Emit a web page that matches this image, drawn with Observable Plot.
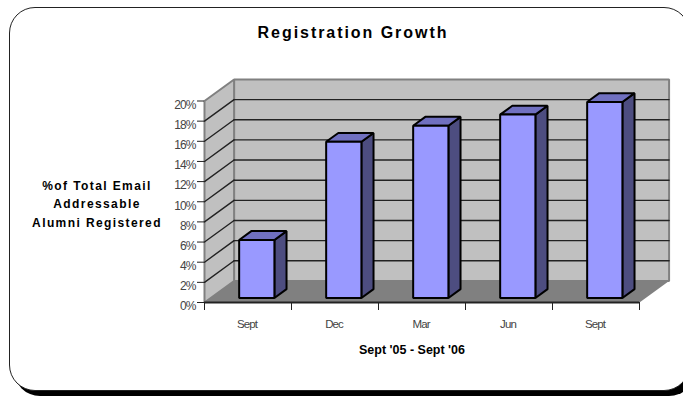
<!DOCTYPE html>
<html>
<head>
<meta charset="utf-8">
<style>
  html, body { margin: 0; padding: 0; background: #fff; overflow: hidden; }
  #page { position: relative; width: 683px; height: 396px; overflow: hidden; font-family: "Liberation Sans", Arial, sans-serif; }
  #card { position: absolute; left: 9px; top: 7px; width: 679px; height: 382px; background: #fff;
          border: 1.5px solid #222; border-radius: 26px; box-shadow: 5px 5px 0 0 #000; box-sizing: content-box; }
  #chart { position: absolute; left: 0; top: 0; }
  #chart svg { background: transparent; display: block; }
  .t { position: absolute; color: #000; font-weight: bold; white-space: nowrap; text-align: center; }
  #title { left: 203px; width: 300px; top: 23px; font-size: 16px; letter-spacing: 1.95px; line-height: 20px; }
  #ytitle { left: 17px; width: 160px; top: 177px; font-size: 12px; letter-spacing: 1.4px; line-height: 18.3px; }
  #xtitle { left: 312px; width: 200px; top: 343px; font-size: 12.5px; letter-spacing: 0; line-height: 14px; }
  g[aria-label="y-axis tick label"] text, g[aria-label="x-axis tick label"] text { letter-spacing: -0.9px; }
</style>
<script src="https://cdn.jsdelivr.net/npm/d3@7"></script>
<script src="https://cdn.jsdelivr.net/npm/@observablehq/plot@0.6"></script>
</head>
<body>
<div id="page">
  <div id="card"></div>
  <div id="chart"></div>
  <div class="t" id="title">Registration Growth</div>
  <div class="t" id="ytitle">%of Total Email<br>Addressable<br>Alumni Registered</div>
  <div class="t" id="xtitle">Sept '05 - Sept '06</div>
</div>
<script>
// Registration share per quarter
const categories = ["Sept", "Dec", "Mar", "Jun", "Sept"];
const values = [5.76, 15.5, 17.1, 18.2, 19.45];
const yTicks = [0, 2, 4, 6, 8, 10, 12, 14, 16, 18, 20];

// Oblique projection: moving one unit into the depth of the box shifts a point
// along both data axes, so everything stays on the ordinary x and y scales.
const depthX = 0.34;
const depthY = 2.14;
const project = (x, y, d) => ({x: x + d * depthX, y: y + d * depthY});

const n = categories.length;
const yMax = 20;

const poly = (id, corners) => corners.map(([x, y, d]) => ({id, ...project(x, y, d)}));
const face = (data, fill, stroke, strokeWidth) =>
  Plot.line(data, {x: "x", y: "y", z: "id", curve: "linear-closed", fill, stroke, strokeWidth, strokeLinejoin: "miter"});

// Walls and floor of the box
const backWall = poly("back", [[0, 0, 1], [n, 0, 1], [n, yMax, 1], [0, yMax, 1]]);
const sideWall = poly("side", [[0, 0, 0], [0, 0, 1], [0, yMax, 1], [0, yMax, 0]]);
const floor = poly("floor", [[0, 0, 0], [n, 0, 0], [n, 0, 1], [0, 0, 1]]);

// Gridlines run along the side wall and across the back wall
const gridLines = yTicks.filter((t) => t > 0 && t < yMax).flatMap((t) => [
  ...poly("s" + t, [[0, t, 0], [0, t, 1]]),
  ...poly("b" + t, [[0, t, 1], [n, t, 1]])
]);

// Bars: front, top and right-hand faces
const barLeft = 0.327, barWidth = 0.405, front = 0.21, back = 0.62;
const barFaces = values.map((v, i) => {
  const x0 = i + barLeft, x1 = x0 + barWidth;
  return {
    front: poly("f" + i, [[x0, 0, front], [x1, 0, front], [x1, v, front], [x0, v, front]]),
    top: poly("t" + i, [[x0, v, front], [x1, v, front], [x1, v, back], [x0, v, back]]),
    side: poly("r" + i, [[x1, 0, front], [x1, 0, back], [x1, v, back], [x1, v, front]])
  };
});

const chart = Plot.plot({
  width: 683,
  height: 396,
  marginLeft: 204,
  marginRight: 44,
  marginTop: 100.5,
  marginBottom: 94,
  style: {background: "transparent", fontFamily: "'Liberation Sans', Arial, sans-serif"},
  x: {domain: [0, n], axis: null},
  y: {domain: [0, yMax], axis: null},
  marks: [
    face(backWall, "#c0c0c0", "#808080", 2),
    face(sideWall, "#c0c0c0", "#808080", 2),
    face(floor, "#808080", "none", 0),
    Plot.line(gridLines, {x: "x", y: "y", z: "id", stroke: "#222", strokeWidth: 1.4}),
    Plot.ruleY([0], {stroke: "#222", strokeWidth: 2}),
    ...barFaces.flatMap((b) => [
      face(b.side, "#4d4d80", "#000", 2),
      face(b.top, "#7070c0", "#000", 2),
      face(b.front, "#9999ff", "#000", 2)
    ]),
    // Tick marks and their labels are separate so the labels can sit just under each tick
    Plot.axisY(yTicks, {anchor: "left", tickSize: 7, tickFormat: () => "", stroke: "#222", label: null}),
    Plot.axisY(yTicks, {
      anchor: "left",
      tickSize: 0,
      tickPadding: 9,
      dy: 4,
      tickFormat: (d) => d + "%",
      fontSize: 12,
      fill: "#444",
      label: null
    }),
    Plot.axisX(d3.range(n + 1), {anchor: "bottom", tickSize: 8, tickFormat: () => "", stroke: "#222", label: null}),
    Plot.axisX(d3.range(n).map((i) => i + 0.5), {
      anchor: "bottom",
      tickSize: 0,
      tickPadding: 17,
      dx: -1,
      tickFormat: (d) => categories[Math.floor(d)],
      fontSize: 11.5,
      fill: "#444",
      label: null
    })
  ]
});
document.getElementById("chart").appendChild(chart);
</script>
</body>
</html>
